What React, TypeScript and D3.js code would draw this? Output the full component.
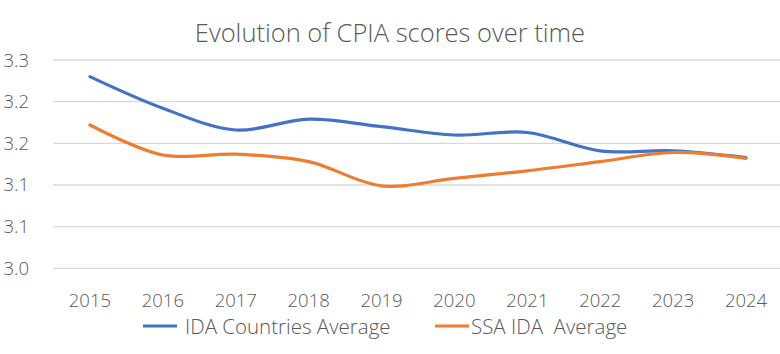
import React from "react";
import * as d3 from "d3";

const years = ["2015", "2016", "2017", "2018", "2019", "2020", "2021", "2022", "2023", "2024"];
const idaAverage = [3.23, 3.192, 3.166, 3.179, 3.17, 3.16, 3.163, 3.141, 3.141, 3.133];
const ssaAverage = [3.172, 3.136, 3.137, 3.128, 3.099, 3.108, 3.117, 3.128, 3.139, 3.132];
const yTickValues = [3.0, 3.05, 3.1, 3.15, 3.2, 3.25];
const yTickLabels = ["3.0", "3.1", "3.1", "3.2", "3.2", "3.3"];
const seriesNames = ["IDA Countries Average", "SSA IDA  Average"];
const colors = ["#4472C4", "#ED7D31"];
const title = "Evolution of CPIA scores over time";

const W = 780;
const H = 354;
const FONT = "'Open Sans', 'Segoe UI', sans-serif";
const TEXT = "#595959";

export default function App() {
  const x = d3.scaleBand<string>().domain(years).range([53.5, 782.5]);
  const y = d3.scaleLinear().domain([3.0, 3.25]).range([268.3, 60]);
  const cx = (d: string) => (x(d) ?? 0) + x.bandwidth() / 2;
  const line = d3
    .line<number>()
    .x((_, i) => cx(years[i]))
    .y((v) => y(v))
    .curve(d3.curveCatmullRom.alpha(0.5));
  const series = [idaAverage, ssaAverage];

  return (
    <svg width={W} height={H} style={{ position: "absolute", left: 0, top: 0, background: "#fff" }} fontFamily={FONT}>
      <rect width={W} height={H} fill="#fff" />
      <text x={390} y={42} textAnchor="middle" fontSize={25.5} fill={TEXT} fontWeight={300}>
        {title}
      </text>
      {yTickValues.map((v, i) => (
        <g key={v}>
          <line x1={53} x2={780} y1={y(v)} y2={y(v)} stroke="#d9d9d9" strokeWidth={1.3} />
          <text x={29} y={y(v) + 6.5} textAnchor="end" fontSize={18.5} fill={TEXT} fontWeight={300}>
            {yTickLabels[i]}
          </text>
        </g>
      ))}
      {years.map((yr) => (
        <text key={yr} x={cx(yr)} y={306.5} textAnchor="middle" fontSize={18.5} fill={TEXT} fontWeight={300}>
          {yr}
        </text>
      ))}
      {series.map((s, i) => (
        <path key={i} d={line(s) ?? ""} fill="none" stroke={colors[i]} strokeWidth={3.2} strokeLinecap="round" strokeLinejoin="round" />
      ))}
      {seriesNames.map((n, i) => {
        const lx = i === 0 ? 143 : 435;
        return (
          <g key={n}>
            <line x1={lx} x2={lx + 34} y1={326} y2={326} stroke={colors[i]} strokeWidth={3.2} />
            <text x={i === 0 ? lx + 42 : lx + 36} y={334} fontSize={20.5} fill={TEXT} fontWeight={300} xmlSpace="preserve" style={{ whiteSpace: "pre" }}>
              {n}
            </text>
          </g>
        );
      })}
    </svg>
  );
}
